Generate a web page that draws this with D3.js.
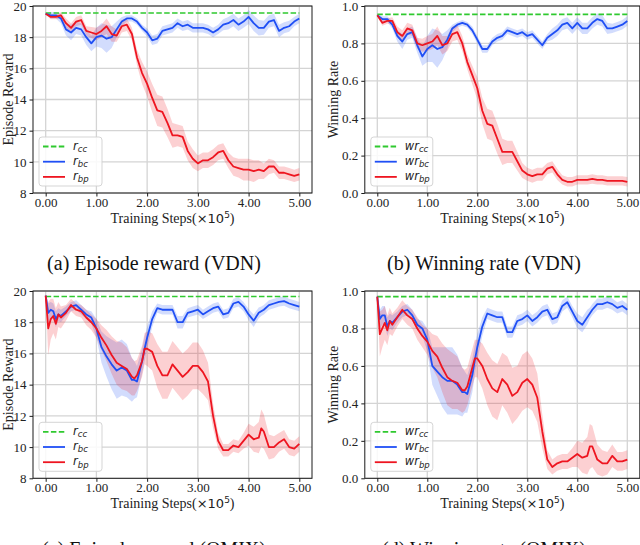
<!DOCTYPE html>
<html>
<head>
<meta charset="utf-8">
<script src="https://cdn.jsdelivr.net/npm/d3@7"></script>
<style>
  body { margin: 0; background: #fff; }
  svg { display: block; }
</style>
</head>
<body>
<div id="chart"></div>
<script>
// Training steps (x 10^5)
var stepsVdn = [0, 0.1, 0.2, 0.3, 0.4, 0.5, 0.6, 0.7, 0.8, 0.9, 1.0, 1.1, 1.2, 1.3, 1.4, 1.5, 1.6, 1.7, 1.8, 1.9,
  2.0, 2.1, 2.2, 2.3, 2.4, 2.5, 2.6, 2.7, 2.8, 2.9, 3.0, 3.1, 3.2, 3.3, 3.4, 3.5, 3.6, 3.7, 3.8, 3.9,
  4.0, 4.1, 4.2, 4.3, 4.4, 4.5, 4.6, 4.7, 4.8, 4.9, 5.0];
var stepsQmix = [0, 0.05, 0.1, 0.15, 0.2, 0.25, 0.3, 0.4, 0.5, 0.6, 0.7, 0.8, 0.9, 1.0, 1.1, 1.2, 1.3, 1.4, 1.5, 1.6, 1.7,
  1.75, 1.8, 1.9, 1.95, 2.0, 2.1, 2.2, 2.3, 2.4, 2.5, 2.6, 2.7, 2.8, 2.9, 3.0, 3.1, 3.2, 3.3, 3.4, 3.5, 3.6, 3.7, 3.8, 3.9,
  4.0, 4.1, 4.2, 4.25, 4.3, 4.4, 4.5, 4.6, 4.7, 4.8, 4.9, 5.0];

var xTicks = [0, 1, 2, 3, 4, 5];
var rewardTicks = [8, 10, 12, 14, 16, 18, 20];
var winTicks = [0, 0.2, 0.4, 0.6, 0.8, 1.0];

// (a) episode reward, VDN
var rewardVdnCc = 19.55;
var rewardVdnBc = [19.5, 19.4, 19.4, 19.2, 18.5, 18.3, 18.6, 18.5, 18.0, 17.6, 18.0, 18.1, 17.9, 18.0, 18.5, 19.0, 19.2, 19.2, 19.0, 18.6,
  18.3, 17.8, 17.9, 18.4, 18.5, 18.6, 18.9, 18.7, 18.8, 18.6, 18.6, 18.6, 18.5, 18.3, 18.5, 18.8, 18.9, 19.1, 18.8, 19.0,
  19.3, 18.9, 18.6, 18.6, 19.0, 19.1, 18.4, 18.6, 18.7, 19.0, 19.2];
var rewardVdnBcSd = [0.05, 0.2, 0.2, 0.3, 0.4, 0.5, 0.4, 0.4, 0.5, 0.5, 0.6, 0.8, 0.9, 0.7, 0.5, 0.3, 0.2, 0.2, 0.2, 0.2,
  0.25, 0.3, 0.3, 0.3, 0.3, 0.3, 0.3, 0.3, 0.3, 0.3, 0.3, 0.3, 0.3, 0.3, 0.3, 0.35, 0.4, 0.4, 0.4, 0.4,
  0.45, 0.5, 0.5, 0.45, 0.4, 0.4, 0.4, 0.35, 0.35, 0.3, 0.3];
var rewardVdnBp = [19.5, 19.3, 19.3, 19.4, 18.9, 18.6, 19.0, 19.1, 18.4, 18.3, 18.2, 18.4, 18.7, 18.2, 18.1, 18.7, 18.8, 18.2, 16.7, 15.7,
  15.0, 14.1, 13.3, 13.2, 12.5, 11.7, 11.7, 11.6, 10.7, 10.2, 9.9, 10.1, 10.1, 10.3, 10.6, 10.7, 10.1, 9.7, 9.6, 9.5,
  9.5, 9.4, 9.5, 9.4, 9.7, 9.7, 9.3, 9.3, 9.2, 9.1, 9.2];
var rewardVdnBpSd = [0.05, 0.15, 0.15, 0.2, 0.3, 0.3, 0.3, 0.3, 0.3, 0.35, 0.4, 0.4, 0.5, 0.5, 0.4, 0.4, 0.4, 0.4, 0.5, 0.7,
  0.8, 0.9, 1.0, 1.0, 0.9, 0.8, 0.7, 0.7, 0.6, 0.6, 0.5, 0.5, 0.5, 0.5, 0.5, 0.5, 0.5, 0.6, 0.6, 0.7,
  0.7, 0.7, 0.6, 0.5, 0.5, 0.4, 0.4, 0.4, 0.4, 0.4, 0.4];

// (b) winning rate, VDN
var winVdnCc = 0.955;
var winVdnBc = [0.95, 0.93, 0.93, 0.90, 0.84, 0.81, 0.85, 0.86, 0.79, 0.73, 0.77, 0.79, 0.77, 0.78, 0.82, 0.88, 0.90, 0.91, 0.90, 0.87,
  0.82, 0.77, 0.77, 0.81, 0.83, 0.84, 0.87, 0.86, 0.85, 0.86, 0.84, 0.85, 0.82, 0.79, 0.83, 0.85, 0.87, 0.90, 0.91, 0.88,
  0.91, 0.88, 0.88, 0.91, 0.93, 0.92, 0.88, 0.88, 0.89, 0.90, 0.92];
var winVdnBcSd = [0.005, 0.015, 0.015, 0.02, 0.03, 0.04, 0.03, 0.03, 0.04, 0.05, 0.07, 0.09, 0.1, 0.07, 0.05, 0.02, 0.015, 0.015, 0.015, 0.02,
  0.02, 0.02, 0.02, 0.02, 0.02, 0.02, 0.02, 0.02, 0.02, 0.02, 0.02, 0.02, 0.02, 0.02, 0.02, 0.03, 0.03, 0.03, 0.03, 0.03,
  0.03, 0.03, 0.03, 0.03, 0.03, 0.03, 0.03, 0.025, 0.025, 0.025, 0.025];
var winVdnBp = [0.95, 0.91, 0.92, 0.92, 0.86, 0.84, 0.88, 0.87, 0.80, 0.79, 0.80, 0.81, 0.84, 0.79, 0.80, 0.85, 0.86, 0.80, 0.70, 0.63,
  0.56, 0.44, 0.37, 0.36, 0.29, 0.22, 0.22, 0.22, 0.17, 0.12, 0.10, 0.09, 0.10, 0.10, 0.13, 0.14, 0.10, 0.07, 0.06, 0.06,
  0.07, 0.07, 0.07, 0.075, 0.07, 0.07, 0.065, 0.065, 0.065, 0.065, 0.06];
var winVdnBpSd = [0.005, 0.015, 0.015, 0.02, 0.03, 0.03, 0.03, 0.03, 0.03, 0.035, 0.04, 0.04, 0.05, 0.05, 0.04, 0.04, 0.04, 0.04, 0.04, 0.05,
  0.06, 0.07, 0.08, 0.08, 0.08, 0.07, 0.06, 0.06, 0.05, 0.04, 0.035, 0.035, 0.035, 0.035, 0.03, 0.03, 0.03, 0.025, 0.025, 0.025,
  0.025, 0.025, 0.025, 0.025, 0.025, 0.025, 0.025, 0.025, 0.025, 0.025, 0.025];

// (c) episode reward, QMIX
var rewardQmixCc = 19.65;
var rewardQmixBc = [19.7, 18.6, 18.8, 18.7, 18.2, 18.5, 18.4, 18.7, 19.0, 19.1, 18.8, 18.5, 18.3, 17.6, 16.4, 15.8, 15.3, 14.9, 15.1, 14.9, 14.3,
  14.3, 14.2, 15.5, 16.3, 17.0, 18.2, 18.9, 18.8, 18.8, 18.8, 18.0, 18.0, 18.6, 18.7, 18.8, 18.5, 18.7, 18.9, 19.0, 18.5, 18.6, 19.2, 19.3, 19.0,
  18.5, 18.1, 18.6, 18.7, 18.8, 19.1, 19.2, 19.3, 19.35, 19.2, 19.1, 19.0];
var rewardQmixBcSd = [0.1, 0.6, 0.5, 0.5, 0.5, 0.4, 0.4, 0.3, 0.3, 0.3, 0.3, 0.3, 0.4, 0.6, 1.0, 1.3, 1.6, 1.8, 1.8, 1.7, 1.4,
  1.2, 1.0, 0.8, 0.8, 0.7, 0.5, 0.3, 0.3, 0.3, 0.3, 0.4, 0.4, 0.3, 0.3, 0.3, 0.3, 0.3, 0.3, 0.3, 0.3, 0.3, 0.3, 0.3, 0.3,
  0.35, 0.4, 0.35, 0.3, 0.3, 0.3, 0.3, 0.3, 0.3, 0.3, 0.3, 0.3];
var rewardQmixBp = [19.7, 17.6, 18.2, 18.4, 17.9, 18.5, 18.3, 18.6, 19.1, 18.8, 18.7, 18.3, 18.0, 17.6, 17.0, 16.5, 15.9, 15.4, 15.2, 15.0, 14.5,
  14.4, 14.6, 15.5, 16.3, 16.3, 16.1, 15.2, 14.6, 14.6, 15.3, 14.9, 14.5, 14.8, 15.2, 15.2, 14.8, 14.2, 12.0, 10.4, 9.8, 9.8, 10.1, 10.0, 10.4,
  10.8, 10.5, 10.6, 11.2, 11.0, 10.0, 10.0, 10.3, 10.5, 10.0, 9.9, 10.2];
var rewardQmixBpSd = [0.1, 1.7, 1.3, 1.1, 1.0, 0.8, 0.7, 0.5, 0.4, 0.4, 0.4, 0.5, 0.5, 0.6, 0.8, 1.0, 1.2, 1.4, 1.5, 1.4, 1.2,
  1.1, 1.0, 1.0, 1.0, 1.1, 1.2, 1.4, 1.5, 1.5, 1.5, 1.5, 1.5, 1.5, 1.5, 1.5, 1.4, 1.2, 0.8, 0.5, 0.4, 0.4, 0.4, 0.4, 0.5,
  0.7, 0.8, 1.0, 1.2, 1.1, 0.8, 0.7, 0.6, 0.6, 0.5, 0.5, 0.5];

// (d) winning rate, QMIX
var winQmixCc = 0.97;
var winQmixBc = [0.97, 0.85, 0.87, 0.87, 0.81, 0.84, 0.83, 0.86, 0.89, 0.90, 0.87, 0.82, 0.80, 0.74, 0.60, 0.57, 0.54, 0.52, 0.52, 0.50, 0.46,
  0.46, 0.45, 0.55, 0.63, 0.70, 0.81, 0.88, 0.87, 0.86, 0.86, 0.78, 0.78, 0.84, 0.85, 0.87, 0.84, 0.86, 0.89, 0.90, 0.85, 0.86, 0.92, 0.94, 0.89,
  0.84, 0.82, 0.86, 0.88, 0.90, 0.93, 0.93, 0.94, 0.93, 0.91, 0.92, 0.90];
var winQmixBcSd = [0.01, 0.05, 0.05, 0.05, 0.05, 0.04, 0.04, 0.03, 0.03, 0.03, 0.03, 0.03, 0.04, 0.06, 0.1, 0.13, 0.16, 0.18, 0.18, 0.16, 0.13,
  0.11, 0.1, 0.09, 0.08, 0.07, 0.05, 0.03, 0.03, 0.03, 0.03, 0.03, 0.03, 0.03, 0.03, 0.03, 0.03, 0.03, 0.03, 0.03, 0.03, 0.03, 0.03, 0.03, 0.03,
  0.04, 0.04, 0.04, 0.03, 0.03, 0.03, 0.03, 0.03, 0.03, 0.03, 0.03, 0.03];
var winQmixBp = [0.97, 0.77, 0.80, 0.83, 0.79, 0.84, 0.82, 0.86, 0.90, 0.87, 0.85, 0.80, 0.76, 0.73, 0.68, 0.65, 0.59, 0.54, 0.52, 0.51, 0.47,
  0.47, 0.49, 0.59, 0.64, 0.64, 0.60, 0.53, 0.48, 0.46, 0.53, 0.50, 0.44, 0.46, 0.51, 0.53, 0.50, 0.43, 0.25, 0.10, 0.06, 0.08, 0.09, 0.09, 0.11,
  0.13, 0.11, 0.12, 0.17, 0.17, 0.10, 0.08, 0.08, 0.12, 0.09, 0.09, 0.10];
var winQmixBpSd = [0.01, 0.12, 0.1, 0.09, 0.08, 0.07, 0.06, 0.05, 0.05, 0.05, 0.05, 0.06, 0.06, 0.07, 0.09, 0.11, 0.13, 0.15, 0.15, 0.14, 0.12,
  0.11, 0.1, 0.1, 0.1, 0.1, 0.12, 0.14, 0.15, 0.15, 0.14, 0.15, 0.15, 0.14, 0.15, 0.15, 0.14, 0.13, 0.09, 0.05, 0.04, 0.04, 0.04, 0.04, 0.05,
  0.07, 0.08, 0.1, 0.12, 0.11, 0.08, 0.07, 0.06, 0.06, 0.05, 0.05, 0.05];

var seriesKeys = ["cc", "bc", "bp"];
var colors = { cc: "#2fc92f", bc: "#1f4ff5", bp: "#ee1520" };

// Layout of the four subplots
var panels = [
  { left: 33, top: 6, width: 279, height: 187, steps: stepsVdn, yDomain: [8, 20], yTicks: rewardTicks, yFmt: d3.format("d"),
    yLabel: "Episode Reward", yLabelX: 13, prefix: "r", cc: rewardVdnCc, bc: rewardVdnBc, bcSd: rewardVdnBcSd,
    bp: rewardVdnBp, bpSd: rewardVdnBpSd, caption: "(a) Episode reward (VDN)", capX: 154, capY: 270 },
  { left: 364.8, top: 6, width: 275, height: 187, steps: stepsVdn, yDomain: [0, 1], yTicks: winTicks, yFmt: d3.format(".1f"),
    yLabel: "Winning Rate", yLabelX: 338, prefix: "wr", cc: winVdnCc, bc: winVdnBc, bcSd: winVdnBcSd,
    bp: winVdnBp, bpSd: winVdnBpSd, caption: "(b) Winning rate (VDN)", capX: 484, capY: 270 },
  { left: 33, top: 291, width: 279, height: 187.3, steps: stepsQmix, yDomain: [8, 20], yTicks: rewardTicks, yFmt: d3.format("d"),
    yLabel: "Episode Reward", yLabelX: 13, prefix: "r", cc: rewardQmixCc, bc: rewardQmixBc, bcSd: rewardQmixBcSd,
    bp: rewardQmixBp, bpSd: rewardQmixBpSd, caption: "(c) Episode reward (QMIX)", capX: 154, capY: 556 },
  { left: 364.8, top: 291, width: 275, height: 187.3, steps: stepsQmix, yDomain: [0, 1], yTicks: winTicks, yFmt: d3.format(".1f"),
    yLabel: "Winning Rate", yLabelX: 338, prefix: "wr", cc: winQmixCc, bc: winQmixBc, bcSd: winQmixBcSd,
    bp: winQmixBp, bpSd: winQmixBpSd, caption: "(d) Winning rate (QMIX)", capX: 484, capY: 556 }
];

var serif = "'Liberation Serif', 'Times New Roman', serif";
var sans = "'DejaVu Sans', sans-serif";

var svg = d3.select("#chart")
  .append("svg")
    .attr("width", 640)
    .attr("height", 545);

panels.forEach(function(p, pi) {
  var g = svg.append("g")
    .attr("transform", `translate(${p.left}, ${p.top})`);

  // matplotlib default 5% margin on x
  var xScale = d3.scaleLinear()
    .domain([-0.25, 5.25])
    .range([0, p.width]);

  var yScale = d3.scaleLinear()
    .domain(p.yDomain)
    .range([p.height, 0]);

  // grid
  g.append("g").selectAll("line")
    .data(xTicks)
    .enter()
    .append("line")
      .attr("x1", d => xScale(d)).attr("x2", d => xScale(d))
      .attr("y1", 0).attr("y2", p.height)
      .attr("stroke", "#d4d4d4").attr("stroke-width", 1.3);

  g.append("g").selectAll("line")
    .data(p.yTicks)
    .enter()
    .append("line")
      .attr("x1", 0).attr("x2", p.width)
      .attr("y1", d => yScale(d)).attr("y2", d => yScale(d))
      .attr("stroke", "#d4d4d4").attr("stroke-width", 1.3);

  var clipId = "clip" + pi;
  g.append("clipPath").attr("id", clipId)
    .append("rect").attr("width", p.width).attr("height", p.height);

  var plot = g.append("g").attr("clip-path", `url(#${clipId})`);

  var area = function(mean, sd) {
    return d3.area()
      .x((d, i) => xScale(p.steps[i]))
      .y0((d, i) => yScale(mean[i] - sd[i]))
      .y1((d, i) => yScale(mean[i] + sd[i]))(mean);
  };
  var line = d3.line()
    .x((d, i) => xScale(p.steps[i]))
    .y(d => yScale(d));

  // shaded std bands
  plot.append("path")
    .attr("d", area(p.bc, p.bcSd))
    .attr("fill", colors.bc).attr("fill-opacity", 0.2);
  plot.append("path")
    .attr("d", area(p.bp, p.bpSd))
    .attr("fill", colors.bp).attr("fill-opacity", 0.2);

  // baseline (dashed)
  var flat = d3.line()
    .x(d => xScale(d[0]))
    .y(d => yScale(d[1]));
  plot.append("path")
    .attr("d", flat([[0, p.cc], [5, p.cc]]))
    .attr("fill", "none")
    .attr("stroke", colors.cc)
    .attr("stroke-width", 1.6)
    .attr("stroke-dasharray", "5.5,2.4");

  plot.append("path")
    .attr("d", line(p.bc))
    .attr("fill", "none").attr("stroke", colors.bc).attr("stroke-width", 1.8)
    .attr("stroke-linejoin", "round");
  plot.append("path")
    .attr("d", line(p.bp))
    .attr("fill", "none").attr("stroke", colors.bp).attr("stroke-width", 1.8)
    .attr("stroke-linejoin", "round");

  // axes
  var bottomAxis = d3.axisBottom(xScale)
    .tickValues(xTicks)
    .tickFormat(d3.format(".2f"))
    .tickSize(3.5)
    .tickPadding(1)
    .tickSizeOuter(0);
  var leftAxis = d3.axisLeft(yScale)
    .tickValues(p.yTicks)
    .tickFormat(p.yFmt)
    .tickSize(3.5)
    .tickPadding(3)
    .tickSizeOuter(0);

  var xg = g.append("g")
    .attr("transform", `translate(0, ${p.height})`)
    .call(bottomAxis);
  var yg = g.append("g")
    .call(leftAxis);

  [xg, yg].forEach(function(ax) {
    ax.select(".domain").remove();
    ax.selectAll(".tick line").attr("stroke", "#000").attr("stroke-width", 0.9);
    ax.selectAll(".tick text")
      .attr("fill", "#222")
      .style("font-family", serif)
      .style("font-size", "13px");
  });

  // frame
  g.append("rect")
    .attr("width", p.width).attr("height", p.height)
    .attr("fill", "none").attr("stroke", "#1a1a1a").attr("stroke-width", 1);

  // x label
  var xl = g.append("text")
    .attr("x", p.width / 2)
    .attr("y", p.height + 30)
    .attr("text-anchor", "middle")
    .attr("fill", "#222")
    .style("font-family", serif)
    .style("font-size", "14px");
  xl.append("tspan").text("Training Steps(");
  xl.append("tspan").style("font-family", sans).style("font-size", "13px").text("\u00d710");
  xl.append("tspan").style("font-family", sans).style("font-size", "9px").attr("dy", -5.5).text("5");
  xl.append("tspan").attr("dy", 5.5).text(")");

  // y label
  svg.append("text")
    .attr("transform", `translate(${p.yLabelX}, ${p.top + p.height / 2}) rotate(-90)`)
    .attr("text-anchor", "middle")
    .attr("fill", "#222")
    .style("font-family", serif)
    .style("font-size", "14px")
    .text(p.yLabel);

  // legend
  var lg = g.append("g").attr("transform", `translate(6, ${p.height - 56})`);
  lg.append("rect")
    .attr("width", p.prefix === "r" ? 63 : 62)
    .attr("height", 49)
    .attr("rx", 3)
    .attr("fill", "#fff").attr("fill-opacity", 0.85)
    .attr("stroke", "#d0d0d0").attr("stroke-width", 0.9);

  seriesKeys.forEach(function(k, i) {
    var ly = 9.5 + i * 15.2;
    lg.append("line")
      .attr("x1", 4).attr("x2", 26)
      .attr("y1", ly).attr("y2", ly)
      .attr("stroke", colors[k]).attr("stroke-width", 1.8)
      .attr("stroke-dasharray", k === "cc" ? "5.5,2.4" : null);
    var t = lg.append("text")
      .attr("x", 34)
      .attr("y", ly + 3)
      .attr("fill", "#222")
      .style("font-family", sans)
      .style("font-style", "italic")
      .style("font-size", "11.5px");
    t.append("tspan").text(p.prefix);
    t.append("tspan").attr("dy", 2.5).style("font-size", "8.5px").text(k);
  });

  // caption
  svg.append("text")
    .attr("x", p.capX)
    .attr("y", p.capY)
    .attr("text-anchor", "middle")
    .attr("fill", "#111")
    .style("font-family", serif)
    .style("font-size", "20px")
    .text(p.caption);
});
</script>
</body>
</html>
